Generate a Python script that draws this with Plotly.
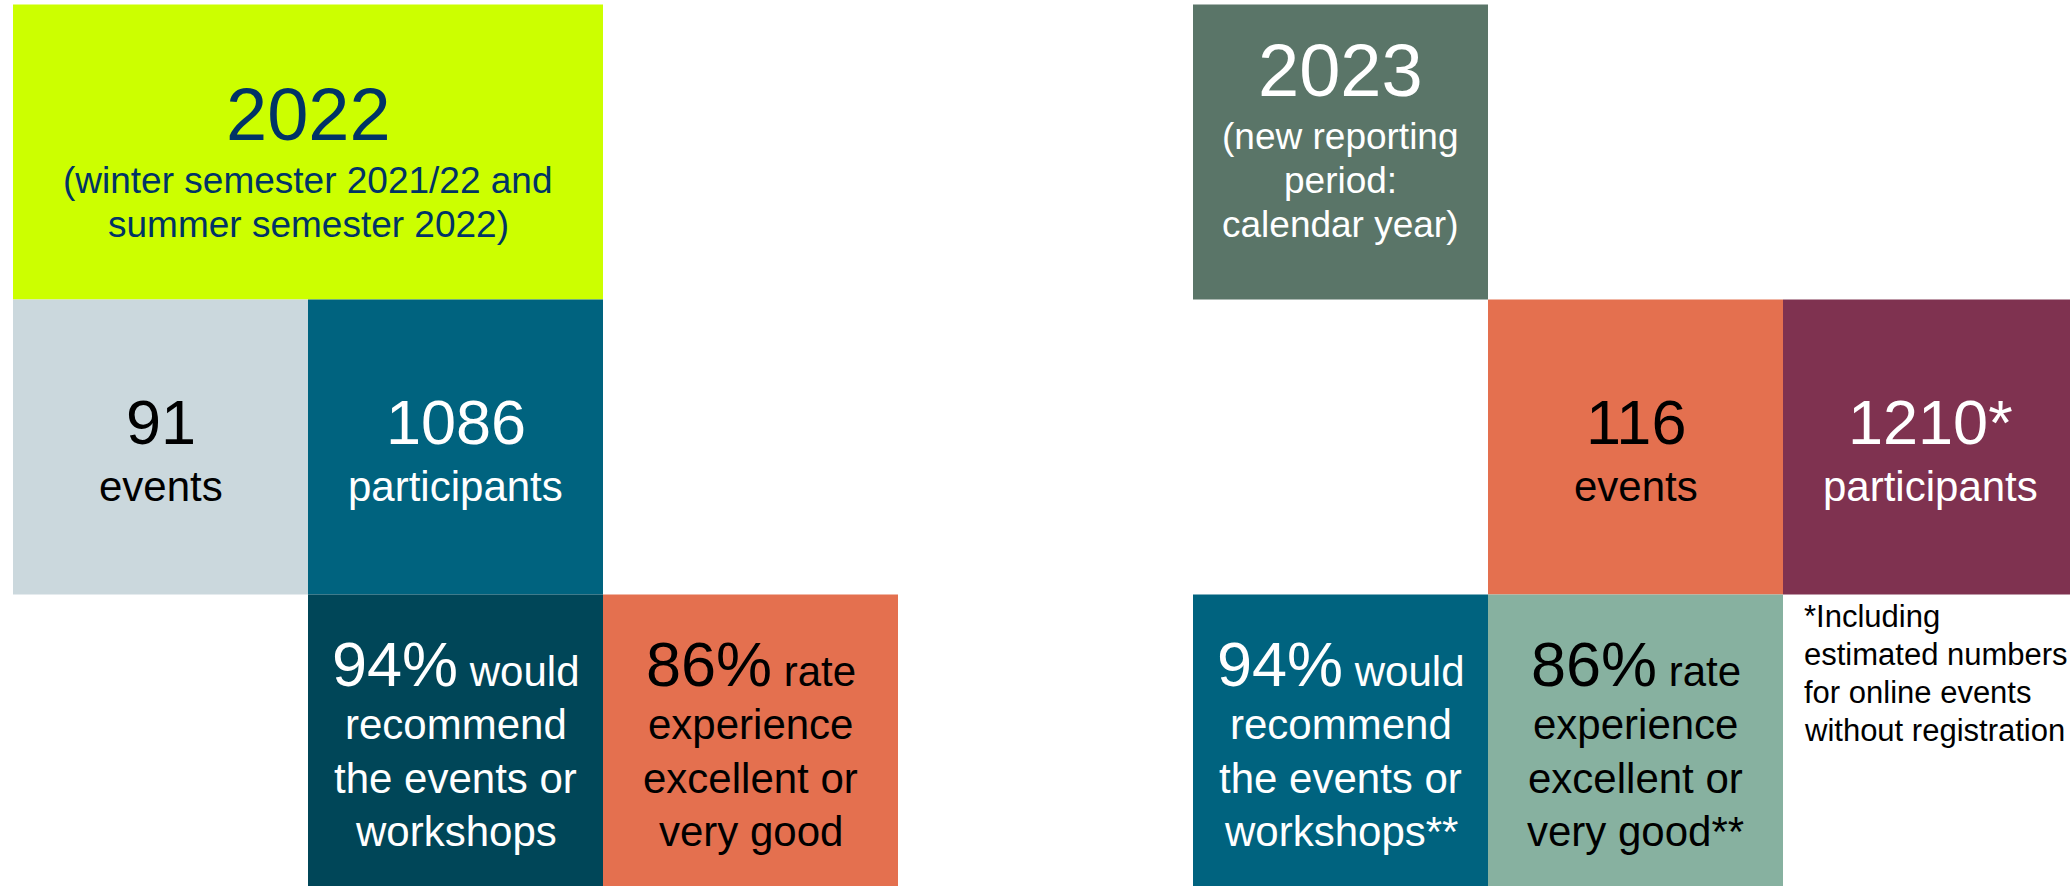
import plotly.graph_objects as go

# ---------------- data ----------------
years = ["2022", "2023"]
year_notes = [
    ["(winter semester 2021/22 and", "summer semester 2022)"],
    ["(new reporting", "period:", "calendar year)"],
]
event_counts = ["91", "116"]
event_label = "events"
participant_counts = ["1086", "1210*"]
participant_label = "participants"
recommend_pct = ["94%", "94%"]
recommend_lines = [
    ["would", "recommend", "the events or", "workshops"],
    ["would", "recommend", "the events or", "workshops**"],
]
rating_pct = ["86%", "86%"]
rating_lines = [
    ["rate", "experience", "excellent or", "very good"],
    ["rate", "experience", "excellent or", "very good**"],
]
footnote_lines = ["*Including", "estimated numbers", "for online events", "without registration"]

# ---------------- layout of the tiles (grid units) ----------------
CELL = 295.0           # px per grid unit
W, H = 2070, 886
X0_PX, Y0_PX = 13.0, 4.5   # pixel position of grid origin

# (col, row, colspan) for each tile kind, per year block
grid = {
    "year":        [(0, 0, 2), (4, 0, 1)],
    "events":      [(0, 1, 1), (5, 1, 1)],
    "participants": [(1, 1, 1), (6, 1, 1)],
    "recommend":   [(1, 2, 1), (4, 2, 1)],
    "rating":      [(2, 2, 1), (5, 2, 1)],
    "footnote":    [None, (6, 2, 1)],
}
fill = {
    "year":        ["#CCFF00", "#5A7568"],
    "events":      ["#CBD8DD", "#E4704F"],
    "participants": ["#00637F", "#7F3250"],
    "recommend":   ["#004658", "#00637F"],
    "rating":      ["#E4704F", "#87B1A0"],
}
ink = {
    "year":        ["#003366", "#FFFFFF"],
    "events":      ["#000000", "#000000"],
    "participants": ["#FFFFFF", "#FFFFFF"],
    "recommend":   ["#FFFFFF", "#FFFFFF"],
    "rating":      ["#000000", "#000000"],
}
FONT = "Liberation Sans, Arial, sans-serif"
FS_YEAR, FS_NOTE, FS_VALUE, FS_LABEL, FS_FOOT = 74, 37, 63, 42, 31

# ---------------- tiles as bars ----------------
bx, bbase, bw, bc = [], [], [], []
for kind in ["year", "events", "participants", "recommend", "rating"]:
    for b in range(2):
        col, row, span = grid[kind][b]
        bx.append(col + span / 2)
        bbase.append(row)
        bw.append(span)
        bc.append(fill[kind][b])

fig = go.Figure(go.Bar(
    x=bx, y=[1] * len(bx), base=bbase, width=bw,
    marker=dict(color=bc, line=dict(width=0)),
    hoverinfo="skip", showlegend=False,
))

annotations = []


def add_line(text, col, span, row, baseline_px, fs_box, fs, color, xanchor="center", x_off_px=0.0):
    # baseline_px: baseline offset from tile top in px; fs_box: largest font size on the line
    y = row + (baseline_px - 0.3465 * fs_box) / CELL
    x = (col + span / 2) if xanchor == "center" else (col + x_off_px / CELL)
    annotations.append(dict(
        x=x, y=y, xref="x", yref="y", text=text, showarrow=False,
        xanchor=xanchor, yanchor="middle",
        font=dict(family=FONT, size=fs, color=color),
    ))


for b in range(2):
    # year tile: lines bottom-aligned
    col, row, span = grid["year"][b]
    notes = year_notes[b]
    last = 232.5
    step = 44.0
    n = len(notes)
    for i, t in enumerate(notes):
        add_line(t, col, span, row, last - (n - 1 - i) * step, FS_NOTE, FS_NOTE, ink["year"][b])
    add_line(years[b], col, span, row, last - (n - 1) * step - 53.0, FS_YEAR, FS_YEAR, ink["year"][b])

    # events / participants
    for kind, vals, lab in [("events", event_counts, event_label),
                            ("participants", participant_counts, participant_label)]:
        col, row, span = grid[kind][b]
        add_line(vals[b], col, span, row, 144.5, FS_VALUE, FS_VALUE, ink[kind][b])
        add_line(lab, col, span, row, 201.5, FS_LABEL, FS_LABEL, ink[kind][b])

    # percentage tiles
    for kind, pcts, lines in [("recommend", recommend_pct, recommend_lines),
                              ("rating", rating_pct, rating_lines)]:
        col, row, span = grid[kind][b]
        ls = lines[b]
        first = f"<span style='font-size:{FS_VALUE}px'>{pcts[b]}</span> {ls[0]}"
        add_line(first, col, span, row, 91.5, FS_VALUE, FS_LABEL, ink[kind][b])
        for i, t in enumerate(ls[1:]):
            add_line(t, col, span, row, 91.5 + (i + 1) * 53.5, FS_LABEL, FS_LABEL, ink[kind][b])

# footnote
col, row, span = grid["footnote"][1]
for i, t in enumerate(footnote_lines):
    add_line(t, col, span, row, 32.5 + i * 38.0, FS_FOOT, FS_FOOT, "#000000",
             xanchor="left", x_off_px=18.5)

fig.update_layout(
    width=W, height=H,
    margin=dict(l=0, r=0, t=0, b=0),
    paper_bgcolor="white", plot_bgcolor="white",
    xaxis=dict(range=[-X0_PX / CELL, (W - X0_PX) / CELL], visible=False, fixedrange=True),
    yaxis=dict(range=[(H - Y0_PX) / CELL, -Y0_PX / CELL], visible=False, fixedrange=True),
    annotations=annotations,
    showlegend=False,
    hovermode=False,
)

fig.write_html(
    "out.html",
    config={"displayModeBar": False},
    post_script="document.body.style.margin='0';document.body.style.overflow='hidden';",
)
